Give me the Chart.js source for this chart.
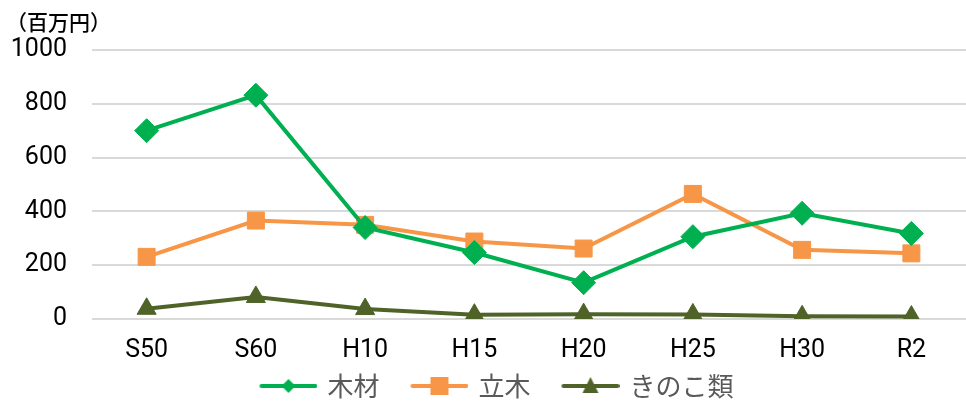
<!DOCTYPE html>
<html>
<head>
<meta charset="utf-8">
<script src="https://cdn.jsdelivr.net/npm/chart.js@4.4.0/dist/chart.umd.min.js"></script>
<style>
  html, body { margin: 0; padding: 0; background: #fff; }
  #wrap { width: 966px; height: 401px; position: relative; }
</style>
</head>
<body>
<div id="wrap"><canvas id="chart"></canvas></div>
<script>
// categories (年度)
const categories = ["S50", "S60", "H10", "H15", "H20", "H25", "H30", "R2"];

// series values (百万円)
const mokuzai = [700, 832, 340, 247, 135, 306, 393, 318];   // 木材
const ryuboku = [231, 366, 350, 288, 262, 465, 257, 244];   // 立木
const kinoko  = [38, 82, 37, 16, 18, 17, 10, 9];            // きのこ類

const yTicks = [0, 200, 400, 600, 800, 1000];

const seriesNames = ["木材", "立木", "きのこ類"];
const colors = ["#00B050", "#F79646", "#4F6228"];
const markers = ["rectRot", "rect", "triangle"];

const numFont = "'Liberation Sans Narrow', 'Roboto', sans-serif";
const jpFont = "'Noto Sans CJK JP', 'Noto Sans', sans-serif";

// legend icon: line with marker in the middle (transparent left part = gap between items)
function legendIcon(color, shape) {
  const c = document.createElement("canvas");
  c.width = 88; c.height = 24;
  const g = c.getContext("2d");
  g.strokeStyle = color;
  g.lineWidth = 4;
  g.lineCap = "round";
  g.beginPath(); g.moveTo(32, 12); g.lineTo(86, 12); g.stroke();
  g.fillStyle = color;
  const cx = 59;
  g.beginPath();
  if (shape === "rectRot") {
    g.moveTo(cx, 5); g.lineTo(cx + 7, 12); g.lineTo(cx, 19); g.lineTo(cx - 7, 12);
  } else if (shape === "rect") {
    g.rect(cx - 9, 3, 18, 18);
  } else {
    g.moveTo(cx, 3); g.lineTo(cx + 8, 19); g.lineTo(cx - 8, 19);
  }
  g.closePath(); g.fill();
  return c;
}

const dataSets = [mokuzai, ryuboku, kinoko].map((vals, i) => ({
  label: seriesNames[i],
  data: vals,
  borderColor: colors[i],
  backgroundColor: colors[i],
  borderWidth: 4,
  pointStyle: markers[i],
  pointRadius: [12, 12, 11][i],
  pointBorderWidth: 1,
  pointBackgroundColor: colors[i],
  pointBorderColor: colors[i],
  tension: 0,
  fill: false
}));

const icons = colors.map((c, i) => legendIcon(c, markers[i]));

// unit label at top left
const unitLabel = {
  id: "unitLabel",
  afterInit(chart) {
    // pull the legend a little tighter to the bottom edge
    const lg = chart.legend;
    if (!lg) return;
    const fit = lg.fit.bind(lg);
    lg.fit = function () { fit(); this.height -= 8; };
  },
  afterDraw(chart) {
    const ctx = chart.ctx;
    ctx.save();
    ctx.font = "500 21px " + jpFont;
    ctx.fillStyle = "#000";
    ctx.textBaseline = "middle";
    ctx.textAlign = "left";
    ctx.fillText("（百万円）", 6, 22);
    ctx.restore();
  }
};

new Chart(document.getElementById("chart"), {
  type: "line",
  data: { labels: categories, datasets: dataSets },
  plugins: [unitLabel],
  options: {
    responsive: true,
    maintainAspectRatio: false,
    animation: false,
    layout: { autoPadding: false, padding: { top: 50, right: 0, left: 0, bottom: 0 } },
    plugins: {
      tooltip: { enabled: false },
      legend: {
        position: "bottom",
        labels: {
          usePointStyle: true,
          pointStyleWidth: 82,
          padding: 4,
          color: "#595959",
          font: { family: jpFont, size: 26 },
          generateLabels(chart) {
            return chart.data.datasets.map((ds, i) => ({
              text: ds.label,
              pointStyle: icons[i],
              fillStyle: colors[i],
              strokeStyle: colors[i],
              lineWidth: 0,
              hidden: false,
              datasetIndex: i,
              fontColor: "#595959"
            }));
          }
        }
      }
    },
    scales: {
      x: {
        offset: true,
        afterFit(scale) { scale.height = 50; },
        grid: { display: false, drawTicks: false },
        border: { display: false },
        ticks: {
          color: "#000",
          padding: 17,
          font: { family: numFont, size: 25 }
        }
      },
      y: {
        min: 0,
        max: 1000,
        afterBuildTicks(scale) { scale.ticks = yTicks.map(v => ({ value: v })); },
        afterFit(scale) { scale.width = 92; },
        grid: { color: "#D9D9D9", lineWidth: 2, drawTicks: false },
        border: { display: false },
        ticks: {
          color: "#000",
          padding: 25,
          font: { family: numFont, size: 25 },
          callback: v => String(v)
        }
      }
    }
  }
});
</script>
</body>
</html>
